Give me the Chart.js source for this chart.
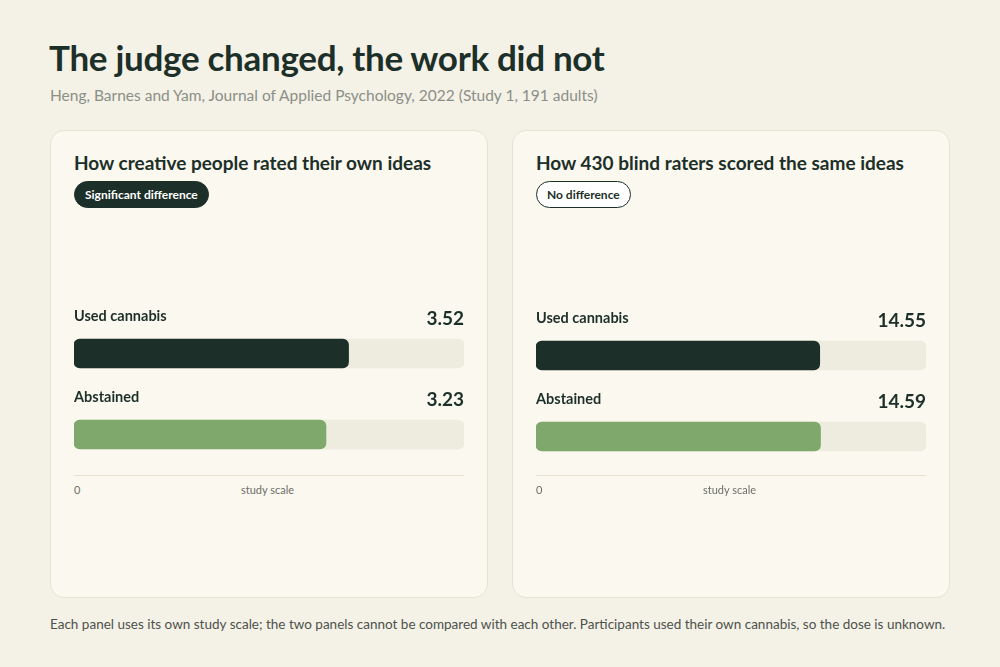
<!DOCTYPE html>
<html><head><meta charset="utf-8">
<script src="https://cdn.jsdelivr.net/npm/chart.js@4/dist/chart.umd.min.js"></script>
<style>
body{margin:0;width:1000px;height:667px;background:#f4f1e7;font-family:Lato,"Noto Sans",sans-serif;color:#1c2f28;position:relative;overflow:hidden}
h1{position:absolute;left:49px;top:36px;margin:0;font-size:35px;font-weight:700;letter-spacing:-0.3px}
.sub{position:absolute;left:50px;top:86px;font-size:15.5px;color:#8b8f86}
.panel{position:absolute;top:130px;width:436px;height:466px;background:#faf8ef;border:1px solid #e7e3d3;border-radius:14px}
.pt{position:absolute;left:23px;top:20px;font-size:19px;font-weight:700}
.badge{position:absolute;left:23px;top:50px;font-size:12px;font-weight:700;padding:5px 10px;border-radius:14px}
.cw{position:absolute;left:23px;top:160px;width:390px;height:184px}
.axis{position:absolute;left:23px;top:344px;width:390px;border-top:1px solid #e6e1cf}
.zero{position:absolute;left:23px;top:352px;font-size:11px;color:#6d6f68}
.ss{position:absolute;left:190px;top:352px;font-size:11px;color:#6d6f68}
.foot{position:absolute;left:50px;top:616px;font-size:13.5px;color:#4d514b}
</style></head><body>
<h1>The judge changed, the work did not</h1>
<div class="sub">Heng, Barnes and Yam, Journal of Applied Psychology, 2022 (Study 1, 191 adults)</div>
<div class="panel" style="left:50px">
<div class="pt">How creative people rated their own ideas</div>
<div class="badge" style="background:#1c2f28;color:#fff;border:1px solid #1c2f28">Significant difference</div>
<div class="cw"><canvas id="c1"></canvas></div>
<div class="axis"></div><div class="zero">0</div><div class="ss">study scale</div>
</div>
<div class="panel" style="left:512px">
<div class="pt">How 430 blind raters scored the same ideas</div>
<div class="badge" style="background:#fff;color:#1c2f28;border:1.5px solid #1c2f28">No difference</div>
<div class="cw" style="top:162px"><canvas id="c2"></canvas></div>
<div class="axis"></div><div class="zero">0</div><div class="ss">study scale</div>
</div>
<div class="foot">Each panel uses its own study scale; the two panels cannot be compared with each other. Participants used their own cannabis, so the dose is unknown.</div>
<script>
const groups=["Used cannabis","Abstained"];
const selfRated=[3.52,3.23];
const raterScores=[14.55,14.59];
const selfMax=5;
const raterMax=20;
const colors=["#1c2f28","#7fa86c"];
const labelPlugin={id:'lbl',afterDatasetsDraw(ch){
  const c=ch.ctx,meta=ch.getDatasetMeta(1),vals=ch.data.datasets[1].data;
  meta.data.forEach((b,i)=>{
    const y=b.y-b.height/2-14;
    c.save();c.fillStyle="#1c2f28";
    c.font="700 14.5px Lato, sans-serif";c.textAlign="left";c.textBaseline="alphabetic";
    c.fillText(ch.data.labels[i],ch.chartArea.left,y-4);
    c.font="700 19px Lato, sans-serif";c.textAlign="right";
    c.fillText(vals[i].toFixed(2),ch.chartArea.right,y);
    c.restore();
  });
}};
function make(id,vals,max){
  new Chart(document.getElementById(id),{type:'bar',
    data:{labels:groups,datasets:[
      {data:groups.map(()=>max),backgroundColor:"#eeebdf",borderRadius:6,borderSkipped:false,grouped:false,order:2,barThickness:29},
      {data:vals,backgroundColor:colors,borderRadius:6,borderSkipped:false,grouped:false,order:1,barThickness:29}]},
    options:{indexAxis:'y',responsive:true,maintainAspectRatio:false,animation:false,
      layout:{padding:{top:22,left:0,right:0,bottom:0}},
      plugins:{legend:{display:false},tooltip:{enabled:false}},
      scales:{x:{display:false,min:0,max:max},y:{display:false}}},
    plugins:[labelPlugin]});
}
make('c1',selfRated,selfMax);
make('c2',raterScores,raterMax);
</script>
</body></html>
